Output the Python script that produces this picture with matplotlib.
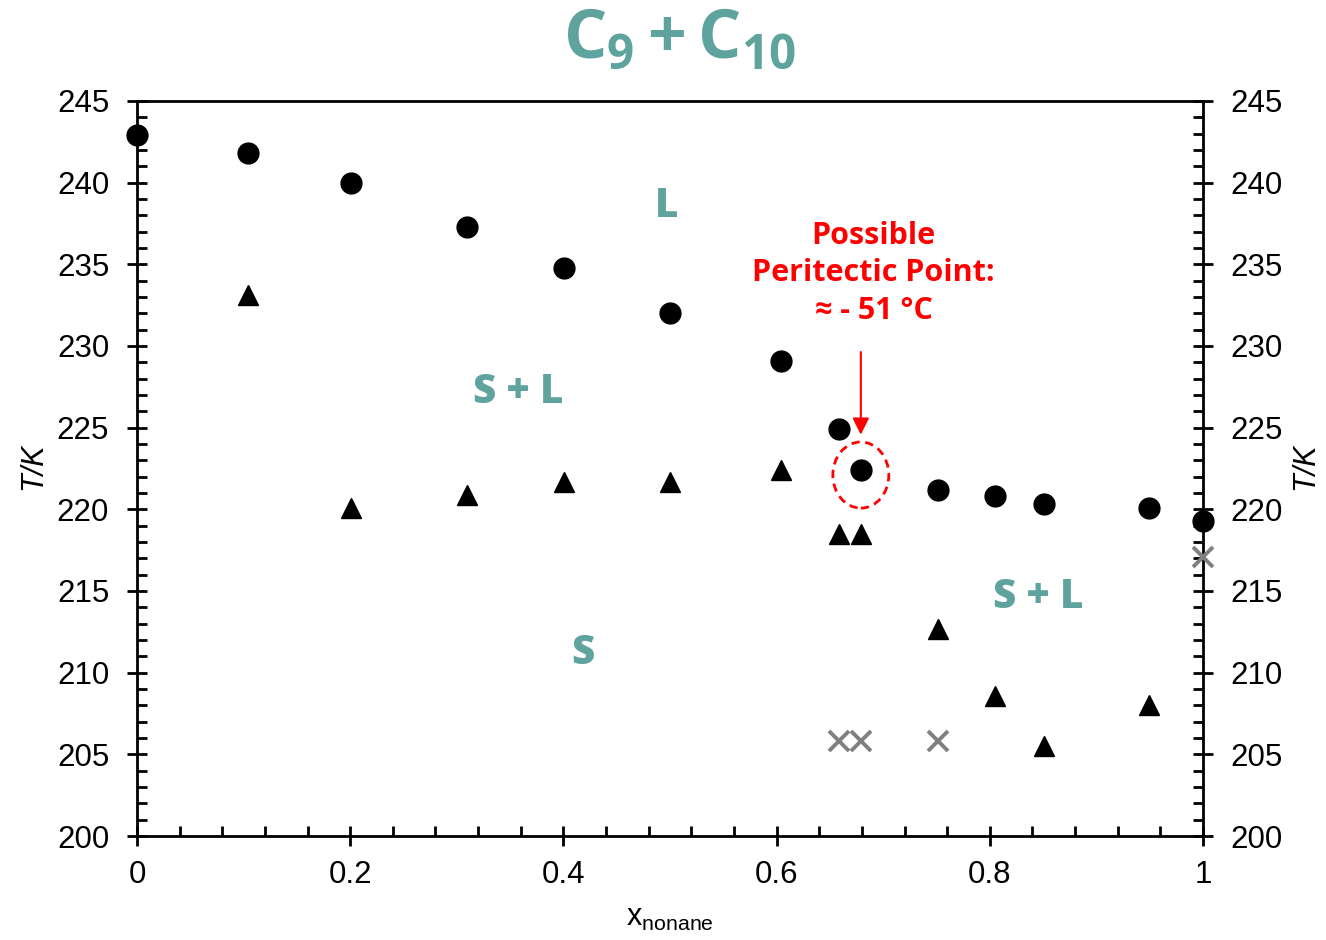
import matplotlib
matplotlib.use("Agg")
import matplotlib.pyplot as plt
from matplotlib.ticker import MultipleLocator
from matplotlib.patches import Ellipse

plt.rcParams['font.family'] = ['Liberation Sans', 'DejaVu Sans']
plt.rcParams['mathtext.fontset'] = 'custom'
plt.rcParams['mathtext.rm'] = 'Liberation Sans'
plt.rcParams['mathtext.it'] = 'Liberation Sans:italic'
plt.rcParams['mathtext.bf'] = 'Open Sans:bold'

# Liquidus (circles)
liq_x = [0.0, 0.104, 0.201, 0.310, 0.401, 0.500, 0.604, 0.659, 0.679, 0.751, 0.805, 0.851, 0.949, 1.0]
liq_T = [242.9, 241.8, 240.0, 237.3, 234.8, 232.0, 229.1, 224.9, 222.4, 221.2, 220.8, 220.3, 220.1, 219.3]
# Solidus (triangles)
sol_x = [0.104, 0.201, 0.310, 0.401, 0.500, 0.604, 0.659, 0.679, 0.751, 0.805, 0.851, 0.949]
sol_T = [233.1, 220.1, 220.9, 221.7, 221.7, 222.4, 218.5, 218.5, 212.7, 208.6, 205.5, 208.0]
# Other transitions (crosses)
cr_x = [0.659, 0.679, 0.751, 1.0]
cr_T = [205.8, 205.8, 205.8, 217.1]

teal = '#5fa39e'
red = '#ff0000'
W, H = 1326, 940

fig = plt.figure(figsize=(13.26, 9.40), dpi=100)
ax = fig.add_axes([137/W, 1-836/H, (1203-137)/W, (836-101)/H])

ax.plot(liq_x, liq_T, 'o', color='black', markersize=15, clip_on=False, zorder=5)
ax.plot(sol_x, sol_T, '^', color='black', markersize=14, clip_on=False, zorder=5)
ax.plot(cr_x, cr_T, 'x', color='#808080', markersize=14, markeredgewidth=2.8, clip_on=False, zorder=5)

ax.set_xlim(0, 1)
ax.set_ylim(200, 245)
ax.xaxis.set_minor_locator(MultipleLocator(0.04))
ax.yaxis.set_major_locator(MultipleLocator(5))
ax.yaxis.set_minor_locator(MultipleLocator(1))
ax.set_xticks([0, 0.2, 0.4, 0.6, 0.8, 1.0])
ax.set_xticklabels(['0', '0.2', '0.4', '0.6', '0.8', '1'])

for s in ax.spines.values():
    s.set_linewidth(2)

ax.tick_params(axis='both', which='major', direction='inout', length=14, width=2, labelsize=22.5)
ax.tick_params(axis='both', which='minor', direction='in', length=7, width=2)
ax.tick_params(axis='y', which='both', left=True, right=True, labelleft=True, labelright=True)
ax.tick_params(axis='x', which='both', top=False, pad=10)
ax.tick_params(axis='y', which='major', pad=13)

# Axis labels
fig.text(33/W, 1-466/H, 'T/K', fontsize=22, style='italic', rotation=90, ha='center', va='center')
fig.text(1305/W, 1-466/H, 'T/K', fontsize=22, style='italic', rotation=90, ha='center', va='center')
fig.text(670/W, 1-918/H, r'x$_{\mathrm{nonane}}$', fontsize=22, ha='center', va='center')

# Title
fig.text(680/W, 1-40/H, r'$\mathbf{C_9+C_{10}}$', ha='center', va='center',
         fontsize=49, color=teal)

# Region labels
lab_kw = dict(color=teal, fontsize=29, fontweight='heavy', family=['Open Sans', 'DejaVu Sans'],
              ha='center', va='center')
ax.text(0.497, 238.55, 'L', **lab_kw)
ax.text(0.358, 227.15, 'S + L', **lab_kw)
ax.text(0.418, 211.2, 'S', **lab_kw)
ax.text(0.845, 214.6, 'S + L', **lab_kw)

# Annotation
ax.text(0.691, 234.45, 'Possible\nPeritectic Point:\n≈ - 51 °C', color=red, fontsize=22,
        fontweight='bold', family=['Open Sans', 'DejaVu Sans'], ha='center', va='center',
        linespacing=1.32)
ax.annotate('', xy=(0.679, 224.4), xytext=(0.679, 229.8),
            arrowprops=dict(arrowstyle='-|>', color=red, lw=1.5, mutation_scale=25))
ax.add_patch(Ellipse((0.679, 222.1), 0.0525, 4.05, fill=False, edgecolor=red,
                     linestyle=(0, (3, 2)), linewidth=2, zorder=6))

fig.savefig('out.png', dpi=100)
